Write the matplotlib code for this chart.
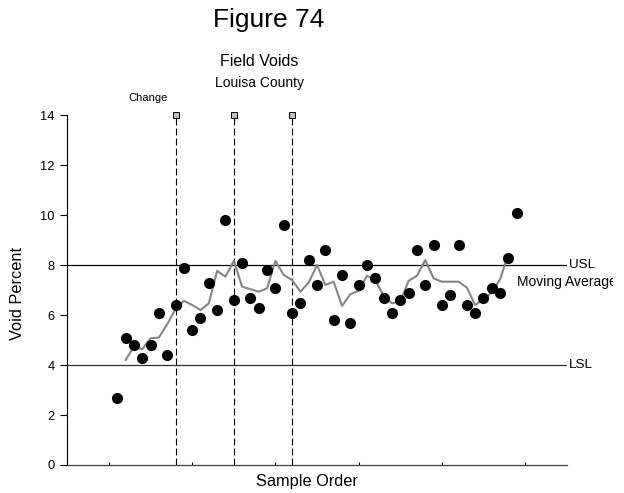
import matplotlib
matplotlib.use("Agg")
import matplotlib.pyplot as plt
from matplotlib.transforms import Bbox, TransformedBbox
import numpy as np
import pandas as pd

plt.rcParams['font.family'] = ['Liberation Sans', 'DejaVu Sans']
plt.rcParams['lines.scale_dashes'] = False

# field void percent, in sample order
voids = [2.7, 5.1, 4.8, 4.3, 4.8, 6.1, 4.4, 6.4, 7.9, 5.4,
         5.9, 7.3, 6.2, 9.8, 6.6, 8.1, 6.7, 6.3, 7.8, 7.1,
         9.6, 6.1, 6.5, 8.2, 7.2, 8.6, 5.8, 7.6, 5.7, 7.2,
         8.0, 7.5, 6.7, 6.1, 6.6, 6.9, 8.6, 7.2, 8.8, 6.4,
         6.8, 8.8, 6.4, 6.1, 6.7, 7.1, 6.9, 8.3, 10.1]
samples = np.arange(1, len(voids) + 1)
change_samples = [8, 15, 22]
usl = 8
lsl = 4
y_ticks = [0, 2, 4, 6, 8, 10, 12, 14]

# 3 point centred moving average
mov_avg = pd.Series(voids).rolling(3, center=True).mean()

fig = plt.figure(figsize=(6.24, 4.93), dpi=100)
ax = fig.add_axes([0.1079, 0.0568, 0.8003, 0.7099])

ax.plot(samples, voids, 'o', color='black', ms=7, zorder=4)
ax.plot(samples, mov_avg, '-', color='#858585', lw=1.5, zorder=3)

for s in change_samples:
    ax.plot([s, s], [0, 14], color='black', lw=0.8, dashes=(5, 2.2), zorder=2)
    ax.plot([s], [14], 's', ms=5, mfc='#c0c0c0', mec='black', mew=0.7,
            clip_on=False, zorder=5)
ax.text(4.7, 14.55, "Change", ha='center', va='baseline', fontsize=8)

ax.axhline(usl, color='black', lw=0.9, zorder=1)
ax.axhline(lsl, color='#303030', lw=0.9, zorder=1)
ax.text(55.3, usl, "USL", ha='left', va='center', fontsize=9.7, clip_on=False)
ax.text(55.3, lsl, "LSL", ha='left', va='center', fontsize=9.7, clip_on=False)
ma_txt = ax.text(samples[-1], 7.33, "Moving Average", ha='left', va='center',
                 fontsize=10)
# the original chart cuts this label off just before the right edge
ma_txt.set_clip_box(TransformedBbox(Bbox([[0, 0], [613 / 624, 1]]), fig.transFigure))
ma_txt.set_clip_on(True)

ax.set_xlim(-5, 55)
ax.set_ylim(0, 14)
ax.set_yticks(y_ticks)
ax.set_xticks([0, 10, 20, 30, 40, 50])
ax.set_xticklabels([])
ax.tick_params(axis='y', direction='out', length=5, width=0.8, pad=4, labelsize=9.3)
ax.tick_params(axis='x', direction='in', length=2, width=0.8)
for side in ['top', 'right']:
    ax.spines[side].set_visible(False)
ax.spines['left'].set_linewidth(0.8)
ax.spines['bottom'].set_linewidth(0.9)
ax.spines['bottom'].set_color('#404040')

ax.set_ylabel("Void Percent", fontsize=11.8)
ax.yaxis.set_label_coords(-0.085, 0.49)
ax.set_xlabel("Sample Order", fontsize=11.8)
ax.xaxis.set_label_coords(0.479, -0.026)

fig.text(0.431, 0.9458, "Figure 74", ha='center', va='baseline', fontsize=19)
fig.text(0.415, 0.8661, "Field Voids", ha='center', va='baseline', fontsize=11.5)
fig.text(0.416, 0.8229, "Louisa County", ha='center', va='baseline', fontsize=10)

fig.savefig("out.png", dpi=100)
